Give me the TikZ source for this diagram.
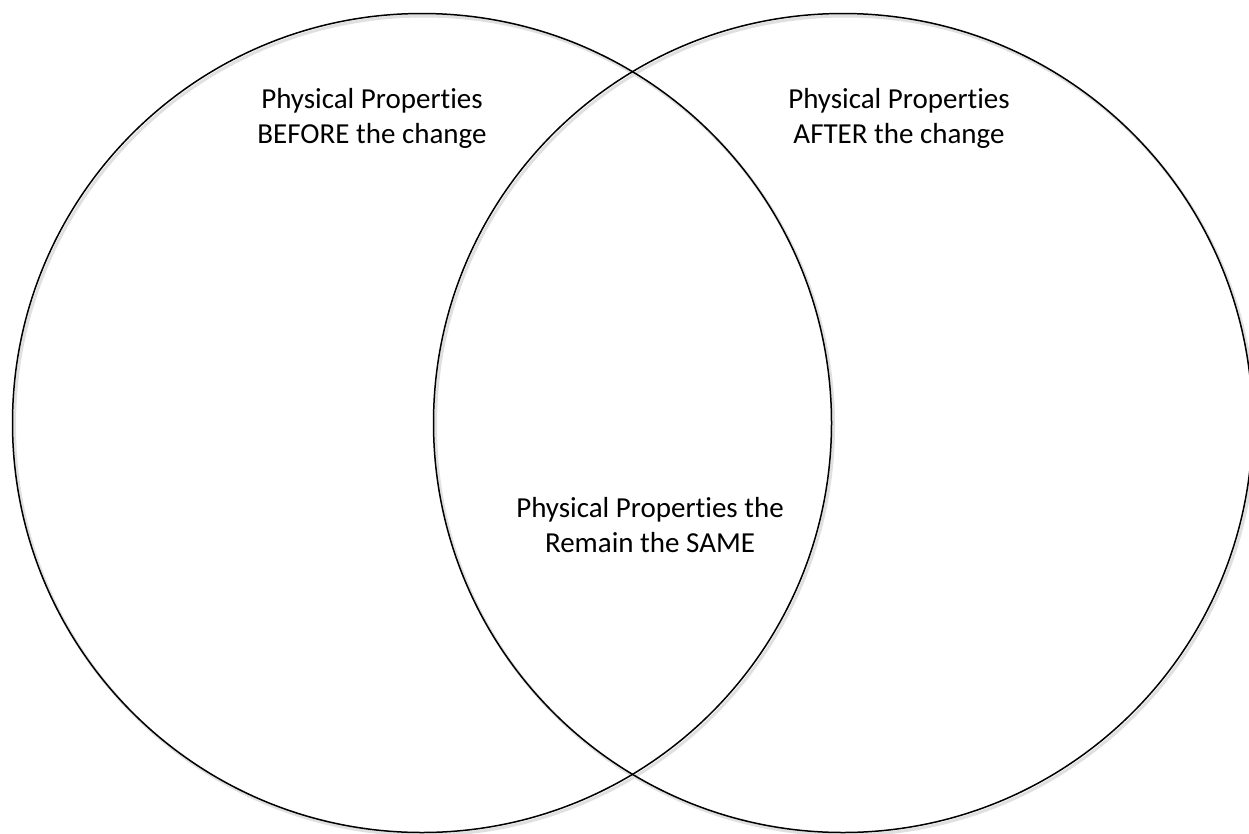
\documentclass[tikz,border=0pt]{standalone}
\usepackage{fontspec}
\setmainfont[Ligatures=NoCommon]{Carlito}
\tikzset{
  vcircle/.style={draw=black, line width=1.5pt},
  vshadow/.style={draw=black!12, line width=3pt},
  vlabel/.style={align=center, inner sep=0pt, font=\fontsize{29}{34.5}\selectfont, anchor=base}
}
\begin{document}
\begin{tikzpicture}[x=1pt,y=-1pt]
\useasboundingbox (0,0) rectangle (1249,833);
\fill[white] (0,0) rectangle (1249,833);
\draw[vshadow] (424,425.5) circle (409.5);
\draw[vshadow] (845,425.5) circle (409.5);
\draw[vcircle] (422,423) circle (409.5) node (L) {};
\draw[vcircle] (843,423) circle (409.5) node (R) {};
\node[vlabel] (before) at (372,143) {Physical Properties\\BEFORE the change};
\node[vlabel] (after) at (899,143) {Physical Properties\\AFTER the change};
\node[vlabel] (same) at (650,552) {Physical Properties the\\Remain the SAME};
\end{tikzpicture}
\end{document}
